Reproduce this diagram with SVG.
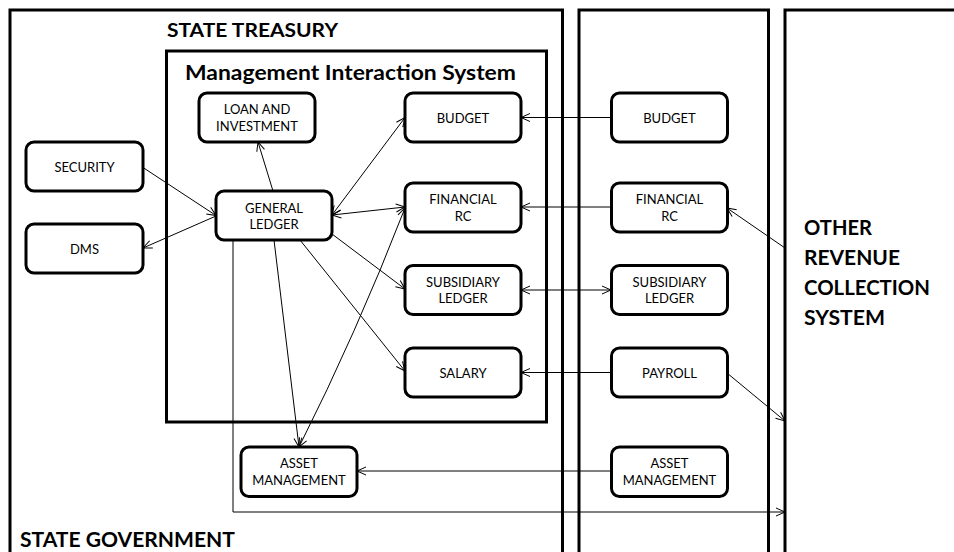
<svg xmlns="http://www.w3.org/2000/svg" width="954" height="552" viewBox="0 0 954 552">
  <style>
    .frame { fill: none; stroke: #000; stroke-width: 3; }
    .node rect { fill: #fff; stroke: #000; stroke-width: 3; }
    .node text { font-family: Lato, "Liberation Sans", sans-serif; font-size: 13px; fill: #000; text-anchor: middle; }
    .title { font-family: Lato, "Liberation Sans", sans-serif; font-weight: bold; fill: #000; }
    .conn path { fill: none; stroke: #000; stroke-width: 1; }
  </style>
  <defs>
    <marker id="arrow" viewBox="0 0 10 10" refX="10" refY="5" markerWidth="10" markerHeight="10" markerUnits="userSpaceOnUse" orient="auto-start-reverse">
      <path d="M1,1 L10,5 L1,9" fill="none" stroke="#000" stroke-width="1"/>
    </marker>
  </defs>

  <rect width="954" height="552" fill="#fff"/>

  <!-- Enclosing system frames -->
  <g id="state-government">
    <path class="frame" d="M10,556 V10 H562.5 V556"/>
    <text class="title" x="20" y="547" font-size="21" textLength="215" lengthAdjust="spacingAndGlyphs">STATE GOVERNMENT</text>
  </g>
  <g id="state-treasury">
    <text class="title" x="167" y="37" font-size="19" textLength="171" lengthAdjust="spacingAndGlyphs">STATE TREASURY</text>
  </g>
  <g id="management-interaction-system">
    <rect class="frame" x="166.5" y="51" width="380" height="371"/>
    <text class="title" x="185" y="80" font-size="21" textLength="331" lengthAdjust="spacingAndGlyphs">Management Interaction System</text>
  </g>
  <g id="middle-system">
    <path class="frame" d="M579,556 V10 H768.5 V556"/>
  </g>
  <g id="other-revenue-collection-system">
    <path class="frame" d="M785,556 V10 H958"/>
    <text class="title" x="804" font-size="21">
      <tspan x="804" y="235" textLength="68" lengthAdjust="spacingAndGlyphs">OTHER</tspan>
      <tspan x="804" y="264.5" textLength="96" lengthAdjust="spacingAndGlyphs">REVENUE</tspan>
      <tspan x="804" y="295" textLength="126" lengthAdjust="spacingAndGlyphs">COLLECTION</tspan>
      <tspan x="804" y="324.5" textLength="81" lengthAdjust="spacingAndGlyphs">SYSTEM</tspan>
    </text>
  </g>

  <!-- Connectors -->
  <g id="connectors" class="conn">
    <path d="M143,167.5 L216,215.5" marker-end="url(#arrow)"/>
    <path d="M216,216 L143,248" marker-end="url(#arrow)"/>
    <path d="M273,191 L258,142" marker-end="url(#arrow)"/>
    <path d="M332,215 L405,117.5" marker-start="url(#arrow)" marker-end="url(#arrow)"/>
    <path d="M332,215 L405,207" marker-start="url(#arrow)" marker-end="url(#arrow)"/>
    <path d="M332,234 L405,289" marker-end="url(#arrow)"/>
    <path d="M300,240 L405,371" marker-end="url(#arrow)"/>
    <path d="M274,240 L299,447" marker-end="url(#arrow)"/>
    <path d="M405,208 Q356,334 299,447" marker-start="url(#arrow)" marker-end="url(#arrow)"/>
    <path d="M611,117.5 H521" marker-end="url(#arrow)"/>
    <path d="M611,207 H521" marker-end="url(#arrow)"/>
    <path d="M521,290 H611" marker-start="url(#arrow)" marker-end="url(#arrow)"/>
    <path d="M611,372.5 H521" marker-end="url(#arrow)"/>
    <path d="M611,471 H357" marker-end="url(#arrow)"/>
    <path d="M785,248 L727,208" marker-end="url(#arrow)"/>
    <path d="M727,373 L785,421" marker-end="url(#arrow)"/>
    <path d="M233,240 V512 H785" marker-end="url(#arrow)"/>
  </g>

  <!-- Nodes -->
  <g id="loan-and-investment" class="node">
    <rect x="199" y="93" width="116" height="49" rx="8"/>
    <text x="257" y="114">LOAN AND</text>
    <text x="257" y="130.5">INVESTMENT</text>
  </g>
  <g id="security" class="node">
    <rect x="26" y="142" width="117" height="49" rx="8"/>
    <text x="84.5" y="171.5">SECURITY</text>
  </g>
  <g id="dms" class="node">
    <rect x="26" y="224" width="117" height="49" rx="8"/>
    <text x="84.5" y="253.5">DMS</text>
  </g>
  <g id="general-ledger" class="node">
    <rect x="216" y="191" width="116" height="49" rx="8"/>
    <text x="274" y="212.5">GENERAL</text>
    <text x="274" y="229">LEDGER</text>
  </g>
  <g id="budget-mis" class="node">
    <rect x="405" y="93" width="116" height="49" rx="8"/>
    <text x="463" y="122.5">BUDGET</text>
  </g>
  <g id="financial-rc-mis" class="node">
    <rect x="405" y="183" width="116" height="49" rx="8"/>
    <text x="463" y="204">FINANCIAL</text>
    <text x="463" y="220.5">RC</text>
  </g>
  <g id="subsidiary-ledger-mis" class="node">
    <rect x="405" y="265.5" width="116" height="49" rx="8"/>
    <text x="463" y="286.5">SUBSIDIARY</text>
    <text x="463" y="303">LEDGER</text>
  </g>
  <g id="salary" class="node">
    <rect x="405" y="348" width="116" height="49" rx="8"/>
    <text x="463" y="377.5">SALARY</text>
  </g>
  <g id="asset-management-treasury" class="node">
    <rect x="241" y="447" width="116" height="49.5" rx="8"/>
    <text x="299" y="468">ASSET</text>
    <text x="299" y="484.5">MANAGEMENT</text>
  </g>
  <g id="budget" class="node">
    <rect x="611.5" y="93" width="116" height="49" rx="8"/>
    <text x="669.5" y="122.5">BUDGET</text>
  </g>
  <g id="financial-rc" class="node">
    <rect x="611.5" y="183" width="116" height="49" rx="8"/>
    <text x="669.5" y="204">FINANCIAL</text>
    <text x="669.5" y="220.5">RC</text>
  </g>
  <g id="subsidiary-ledger" class="node">
    <rect x="611.5" y="265.5" width="116" height="49" rx="8"/>
    <text x="669.5" y="286.5">SUBSIDIARY</text>
    <text x="669.5" y="303">LEDGER</text>
  </g>
  <g id="payroll" class="node">
    <rect x="611.5" y="348" width="116" height="49" rx="8"/>
    <text x="669.5" y="377.5">PAYROLL</text>
  </g>
  <g id="asset-management" class="node">
    <rect x="611.5" y="447" width="116" height="49.5" rx="8"/>
    <text x="669.5" y="468">ASSET</text>
    <text x="669.5" y="484.5">MANAGEMENT</text>
  </g>
</svg>
